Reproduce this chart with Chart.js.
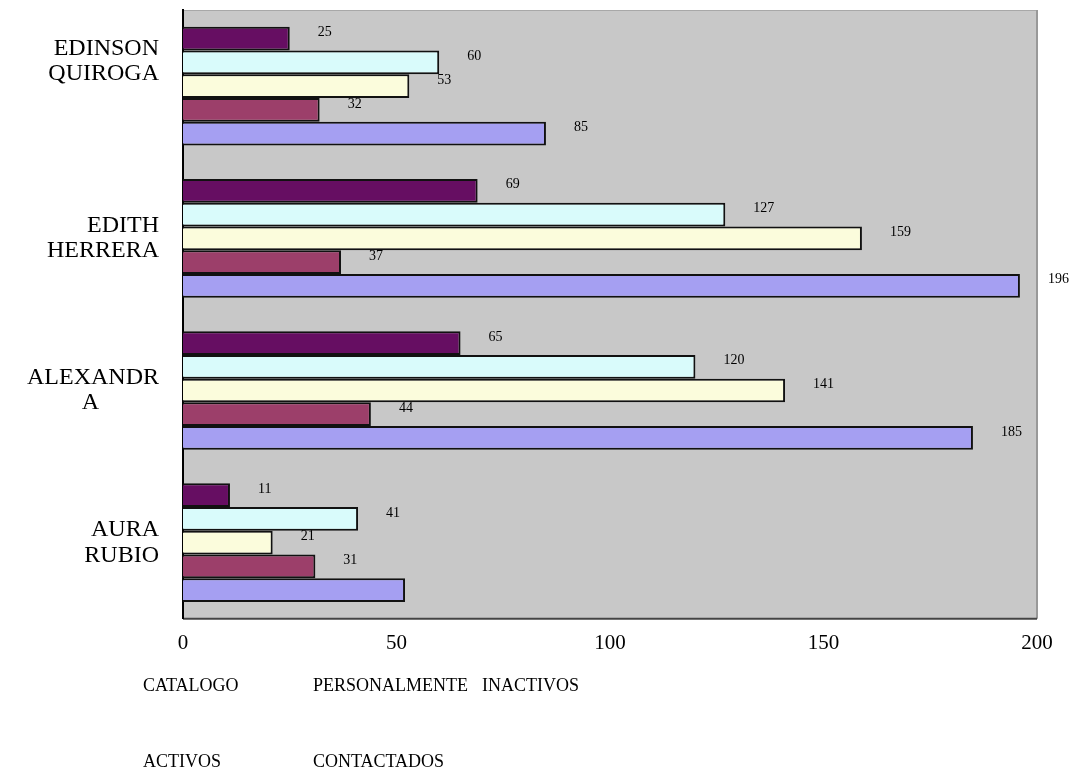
<!DOCTYPE html>
<html>
<head>
<meta charset="utf-8">
<script src="https://cdn.jsdelivr.net/npm/chart.js@4.4.1/dist/chart.umd.min.js"></script>
<style>
    body { margin: 0; background: #fff; }
    #wrap { position: relative; width: 1070px; height: 775px; }
    #legend {
        position: absolute; left: 143px; top: 675px;
        display: grid; grid-template-columns: 170px 169px auto;
        row-gap: 55px;
        font-family: "Liberation Serif", "Times New Roman", serif; font-size: 18px; color: #000;
    }
</style>
</head>
<body>
<div id="wrap">
    <canvas id="vend-chart" width="1070" height="775"></canvas>
    <div id="legend"></div>
</div>
<script>
// categorias de arriba hacia abajo
const vendedores = [['EDINSON', 'QUIROGA', '', ''], ['EDITH', 'HERRERA'], ['ALEXANDR', 'A\u00a0\u00a0\u00a0\u00a0\u00a0\u00a0\u00a0\u00a0\u00a0\u00a0'], ['AURA', 'RUBIO']];

// series en orden de dibujo (barra superior primero)
const contactados = [25, 69, 65, 11];
const activos = [60, 127, 120, 41];
const inactivos = [53, 159, 141, 21];
const personalmente = [32, 37, 44, 31];
const catalogo = [85, 196, 185, 52];

// etiquetas que se ven en el grafico (null = sin etiqueta)
const etiquetasCatalogo = [85, 196, 185, null];

const ticksX = [0, 50, 100, 150, 200];
const ordenLeyenda = ['CATALOGO', 'PERSONALMENTE', 'INACTIVOS', 'ACTIVOS', 'CONTACTADOS'];

const fondoPlot = {
    id: 'fondoPlot',
    beforeDraw(chart) {
        const {ctx, chartArea: a} = chart;
        ctx.save();
        ctx.fillStyle = '#c8c8c8';
        ctx.fillRect(a.left, a.top, a.right - a.left, a.bottom - a.top);
        ctx.strokeStyle = '#a8a8a8';
        ctx.lineWidth = 1;
        ctx.beginPath();
        ctx.moveTo(a.left, a.top + 0.5); ctx.lineTo(a.right, a.top + 0.5);
        ctx.stroke();
        ctx.strokeStyle = '#999';
        ctx.lineWidth = 2;
        ctx.beginPath();
        ctx.moveTo(a.right, a.top); ctx.lineTo(a.right, a.bottom);
        ctx.stroke();
        ctx.strokeStyle = '#444';
        ctx.beginPath();
        ctx.moveTo(a.left, a.bottom); ctx.lineTo(a.right, a.bottom);
        ctx.stroke();
        ctx.restore();
    }
};

const etiquetas = {
    id: 'etiquetas',
    afterDatasetsDraw(chart) {
        const ctx = chart.ctx;
        ctx.save();
        ctx.font = '14px "Liberation Serif", serif';
        ctx.fillStyle = '#000';
        ctx.textAlign = 'left';
        ctx.textBaseline = 'middle';
        chart.data.datasets.forEach((ds, i) => {
            const meta = chart.getDatasetMeta(i);
            meta.data.forEach((bar, j) => {
                const txt = ds.etiquetas ? ds.etiquetas[j] : ds.data[j];
                if (txt === null) return;
                ctx.fillText(String(txt), bar.x + 28, bar.y - 6);
            });
        });
        ctx.restore();
    }
};

const serie = (label, data, color, extra) => Object.assign({
    label: label,
    data: data,
    backgroundColor: color,
    borderColor: '#111',
    borderWidth: 2,
    borderSkipped: 'start',
    barPercentage: 1.0,
    categoryPercentage: 0.78,
}, extra || {});

const vendChart = new Chart(document.getElementById('vend-chart'), {
    type: 'bar',
    data: {
        labels: vendedores,
        datasets: [
            serie('CONTACTADOS', contactados, '#660e62'),
            serie('ACTIVOS', activos, '#d9fbfb'),
            serie('INACTIVOS', inactivos, '#fbfcdc'),
            serie('PERSONALMENTE', personalmente, '#9c3f6a'),
            serie('CATALOGO', catalogo, '#a59ff2', {etiquetas: etiquetasCatalogo}),
        ]
    },
    options: {
        indexAxis: 'y',
        responsive: false,
        animation: false,
        layout: {padding: {top: 10, right: 33, bottom: 107, left: 0}},
        plugins: {
            legend: {display: false},
            tooltip: {enabled: false}
        },
        scales: {
            x: {
                min: 0,
                max: 200,
                afterBuildTicks: (s) => { s.ticks = ticksX.map(v => ({value: v})); },
                grid: {display: false, drawTicks: false},
                border: {display: false},
                ticks: {
                    color: '#000',
                    padding: 12,
                    font: {family: '"Liberation Serif", serif', size: 21}
                }
            },
            y: {
                afterFit: (s) => { s.width = 183; s.paddingTop = 0; s.paddingBottom = 0; },
                grid: {display: false, drawTicks: false},
                border: {display: true, color: '#000', width: 2},
                ticks: {
                    color: '#000',
                    padding: 24,
                    font: {family: '"Liberation Serif", serif', size: 24, lineHeight: 1.05}
                }
            }
        }
    },
    plugins: [fondoPlot, etiquetas]
});

// leyenda en rejilla como en la original
const leyenda = document.getElementById('legend');
ordenLeyenda.forEach(nombre => {
    const ds = vendChart.data.datasets.find(d => d.label === nombre);
    const item = document.createElement('div');
    item.textContent = ds.label;
    leyenda.appendChild(item);
});
</script>
</body>
</html>
